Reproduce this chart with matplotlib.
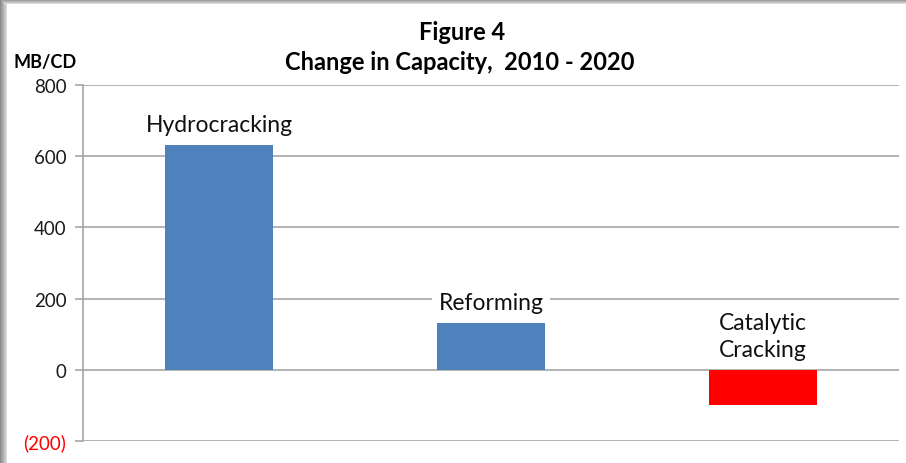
import numpy as np
import matplotlib.pyplot as plt
from matplotlib.patches import Rectangle
from matplotlib.ticker import FuncFormatter

# Datos del gráfico
categorias = ["Hydrocracking", "Reforming", "Catalytic\nCracking"]
cambio = [632, 131, -100]
colores = ["#4F81BD", "#4F81BD", "#FF0000"]
ticks_y = [-200, 0, 200, 400, 600, 800]

plt.rcParams['font.family'] = ['Lato', 'DejaVu Sans']

W, H = 906, 464
fig = plt.figure(figsize=(W / 100, H / 100), dpi=100, facecolor='w')

# Borde gris (sombra) a la izquierda y arriba
for i, g in enumerate(np.linspace(0.55, 0.85, 7)):
    fig.patches.append(Rectangle((i / W, 0), 1 / W, 1, transform=fig.transFigure,
                                 facecolor=str(g), edgecolor='none', zorder=0))
for i, g in enumerate(np.linspace(0.55, 0.85, 5)):
    fig.patches.append(Rectangle((i / W, 1 - (i + 1) / H), 1, 1 / H, transform=fig.transFigure,
                                 facecolor=str(g), edgecolor='none', zorder=0))

ax = fig.add_axes([83 / W, 22 / H, 816 / W, 356 / H])
ax.set_facecolor('none')

x = np.arange(len(categorias))
ax.bar(x, cambio, width=0.4, color=colores, zorder=3)

ax.set_xlim(-0.5, len(categorias) - 0.5)
ax.set_ylim(ticks_y[0], ticks_y[-1])
ax.set_yticks(ticks_y)
ax.yaxis.set_major_formatter(FuncFormatter(lambda v, p: f"({abs(int(v))})" if v < 0 else f"{int(v)}"))
ax.set_xticks([])

ax.grid(True, axis='y', color='#a6a6a6', linewidth=1.2, zorder=1)
for s in ['top', 'right', 'bottom']:
    ax.spines[s].set_visible(False)
ax.spines['left'].set_color('#a6a6a6')
ax.spines['left'].set_linewidth(1.2)
ax.tick_params(axis='y', direction='out', length=6, width=1.2, color='#a6a6a6',
               labelsize=13.5, pad=6, labelcolor='#1a1a1a')
for lbl, v in zip(ax.get_yticklabels(), ticks_y):
    if v < 0:
        lbl.set_color('red')

# Etiquetas de categoría sobre cada barra
for xi, v, nombre in zip(x, cambio, categorias):
    ax.annotate(nombre, xy=(xi, max(v, 0)), xytext=(0, 7), textcoords='offset points',
                ha='center', va='bottom', fontsize=16.5, color='#111111',
                linespacing=1.35, zorder=4,
                bbox=dict(boxstyle='square,pad=0.3', facecolor='w', edgecolor='none'))

fig.text(0.51, 0.930, "Figure 4", ha='center', va='center', fontsize=17, fontweight='bold')
fig.text(0.508, 0.866, "Change in Capacity,  2010 - 2020", ha='center', va='center',
         fontsize=17, fontweight='bold')
fig.text(45 / W, 0.866, "MB/CD", ha='center', va='center', fontsize=13, fontweight='bold')

fig.savefig("out.png", dpi=100, facecolor='w')
plt.close(fig)
